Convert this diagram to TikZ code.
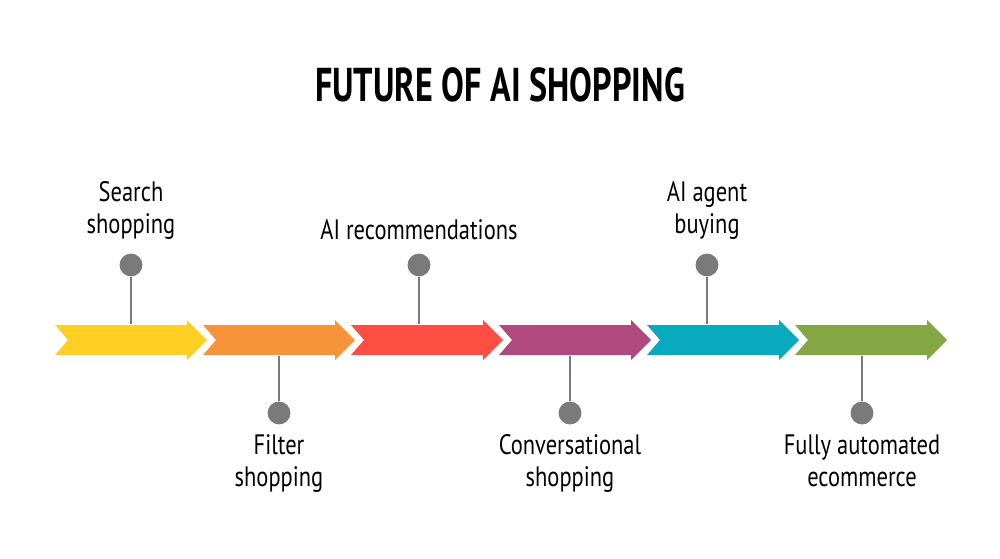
\documentclass[tikz,border=0pt]{standalone}
\usepackage{fontspec}
\setmainfont{PT Sans}
\newfontfamily\condfont[FakeStretch=0.8]{PT Sans}
\newfontfamily\titlefont[FakeStretch=0.72]{PT Sans Bold}
\usetikzlibrary{calc}
\definecolor{cYellow}{HTML}{FDD023}
\definecolor{cOrange}{HTML}{F7933A}
\definecolor{cRed}{HTML}{FE4D42}
\definecolor{cPurple}{HTML}{B04A7E}
\definecolor{cTeal}{HTML}{09A9BE}
\definecolor{cGreen}{HTML}{83A745}
\definecolor{pin}{HTML}{7A7A7A}
\tikzset{
  chevron/.style={fill=#1,draw=none},
  pindot/.style={circle,fill=pin,inner sep=0pt,minimum size=13pt},
  pinline/.style={draw=pin,line width=1.2pt},
  steplabel/.style={align=center,font=\condfont\fontsize{16}{18.5}\selectfont,text=black,inner sep=0pt}
}
\begin{document}
\begin{tikzpicture}[x=0.02cm,y=-0.02cm]
\useasboundingbox (0,0) rectangle (1000,558);
\node[font=\titlefont\fontsize{27}{30}\selectfont] (title) at (500,85) {FUTURE OF AI SHOPPING};
%
\foreach \c [count=\i from 0] in {cYellow,cOrange,cRed,cPurple,cTeal,cGreen}{
  \fill[chevron=\c] (55+148*\i,325) -- (187+148*\i,325) -- (187+148*\i,320)
    -- (207+148*\i,340) -- (187+148*\i,360) -- (187+148*\i,355)
    -- (55+148*\i,355) -- (68+148*\i,340) -- cycle;
}
%
\foreach \x/\i/\txt in {131/0/{Search\\shopping},419/2/{AI recommendations},707/4/{AI agent\\buying}}{
  \coordinate (s\i) at (\x,324);
  \node[pindot] (d\i) at (\x,265) {};
  \draw[pinline] (s\i) -- (d\i);
  \node[steplabel,anchor=south] (t\i) at (\x,240) {\txt};
}
\foreach \x/\i/\txt in {279/1/{Filter\\shopping},570/3/{Conversational\\shopping},862/5/{Fully automated\\ecommerce}}{
  \coordinate (s\i) at (\x,356);
  \node[pindot] (d\i) at (\x,413) {};
  \draw[pinline] (s\i) -- (d\i);
  \node[steplabel,anchor=north] (t\i) at (\x,434) {\txt};
}
\end{tikzpicture}
\end{document}
